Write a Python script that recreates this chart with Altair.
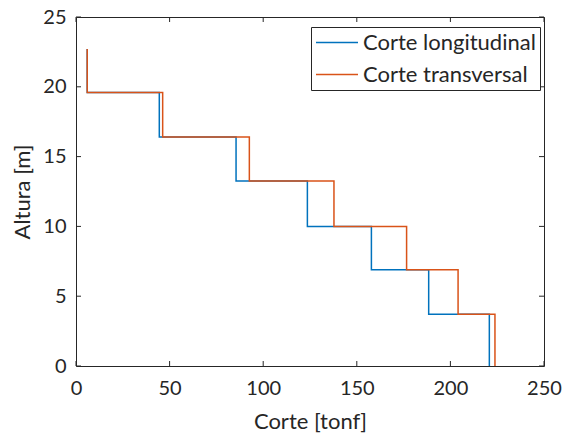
import altair as alt
import pandas as pd

# Story levels [m] (bottom to top) and shear per story [tonf]
heights = [0.0, 3.7, 6.9, 10.0, 13.25, 16.4, 19.6, 22.7]
corte_long = [220.8, 188.4, 157.8, 123.6, 85.5, 44.5, 6.0]
corte_trans = [223.8, 204.1, 176.6, 137.8, 92.6, 46.3, 6.0]
series_names = ["Corte longitudinal", "Corte transversal"]
series_colors = ["#0072BD", "#D95319"]
x_ticks = [0, 50, 100, 150, 200, 250]
y_ticks = [0, 5, 10, 15, 20, 25]

W, H = 468, 349
FONT = "Lato"
TXT = "#262626"


def step_rows(name, shear):
    rows = []
    k = 0
    for i, v in enumerate(shear):
        rows.append({"serie": name, "corte": v, "altura": heights[i], "k": k}); k += 1
        rows.append({"serie": name, "corte": v, "altura": heights[i + 1], "k": k}); k += 1
    return rows


df = pd.DataFrame(step_rows(series_names[0], corte_long) + step_rows(series_names[1], corte_trans))
xt = pd.DataFrame({"t": x_ticks})
yt = pd.DataFrame({"t": y_ticks})

xscale = alt.Scale(domain=[0, 250], nice=False, zero=False)
yscale = alt.Scale(domain=[0, 25], nice=False, zero=False)

lines = alt.Chart(df).mark_line(strokeWidth=1.5, interpolate="linear").encode(
    x=alt.X("corte:Q", scale=xscale, title="Corte [tonf]",
            axis=alt.Axis(values=x_ticks, labelPadding=12, titleY=62, labelFlush=False,
                          titleBaseline="alphabetic")),
    y=alt.Y("altura:Q", scale=yscale, title="Altura [m]",
            axis=alt.Axis(values=y_ticks, labelPadding=10, titleX=-47, labelFlush=False,
                          titleAngle=270, titleBaseline="alphabetic")),
    color=alt.Color("serie:N", scale=alt.Scale(domain=series_names, range=series_colors),
                    legend=alt.Legend(title=None, orient="none", legendX=235, legendY=10,
                                      symbolType="M-1,0H3", symbolSize=441,
                                      symbolStrokeWidth=1.5, labelFontSize=22,
                                      labelFont=FONT, labelColor=TXT, labelOffset=25,
                                      labelLimit=0, rowPadding=9, padding=4,
                                      strokeColor=TXT, fillColor="white")),
    order="k:Q",
)

tick_style = dict(color=TXT, strokeWidth=1)
xb = alt.Chart(xt).mark_rule(**tick_style).encode(x=alt.X("t:Q", scale=xscale), y=alt.value(H), y2=alt.value(H - 5))
xtop = alt.Chart(xt).mark_rule(**tick_style).encode(x=alt.X("t:Q", scale=xscale), y=alt.value(0), y2=alt.value(5))
yl = alt.Chart(yt).mark_rule(**tick_style).encode(y=alt.Y("t:Q", scale=yscale), x=alt.value(0), x2=alt.value(5))
yr = alt.Chart(yt).mark_rule(**tick_style).encode(y=alt.Y("t:Q", scale=yscale), x=alt.value(W), x2=alt.value(W - 5))

chart = alt.layer(xb, xtop, yl, yr, lines).properties(
    width=W, height=H,
    padding={"left": 76, "top": 17, "right": 23, "bottom": 68},
    autosize=alt.AutoSizeParams(type="none"),
).configure(background="white").configure_view(stroke=TXT, strokeWidth=1).configure_axis(
    grid=False, domain=False, tickSize=0, labelFont=FONT, labelFontSize=20,
    labelColor=TXT, titleFont=FONT, titleFontSize=22, titleColor=TXT,
    titleFontWeight="normal",
)

chart.save("out.html", embed_options={"renderer": "svg", "actions": False})
